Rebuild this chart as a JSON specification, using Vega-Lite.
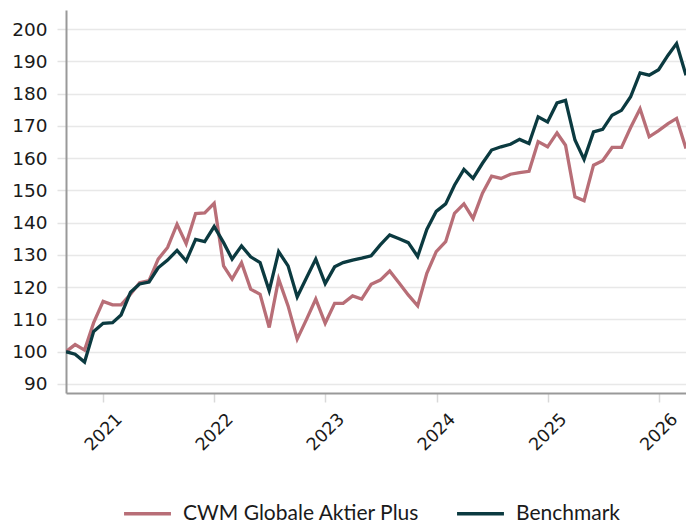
{
  "$schema": "https://vega.github.io/schema/vega-lite/v6.json",
  "width": 620,
  "height": 383,
  "autosize": {"type": "none"},
  "padding": {"left": 66, "top": 10, "right": 0, "bottom": 132},
  "background": "white",
  "config": {
    "view": {"stroke": null},
    "font": "DejaVu Sans"
  },
  "data": {
    "values": [
      {"date": "2020-08-31", "CWM Globale Aktier Plus": 100, "Benchmark": 100},
      {"date": "2020-09-30", "CWM Globale Aktier Plus": 102.2, "Benchmark": 99.2},
      {"date": "2020-10-31", "CWM Globale Aktier Plus": 100.5, "Benchmark": 96.8},
      {"date": "2020-11-30", "CWM Globale Aktier Plus": 109, "Benchmark": 106.3},
      {"date": "2020-12-31", "CWM Globale Aktier Plus": 115.6, "Benchmark": 108.8},
      {"date": "2021-01-31", "CWM Globale Aktier Plus": 114.5, "Benchmark": 109},
      {"date": "2021-02-28", "CWM Globale Aktier Plus": 114.5, "Benchmark": 111.4},
      {"date": "2021-03-31", "CWM Globale Aktier Plus": 117.8, "Benchmark": 118.4},
      {"date": "2021-04-30", "CWM Globale Aktier Plus": 121.4, "Benchmark": 121},
      {"date": "2021-05-31", "CWM Globale Aktier Plus": 122, "Benchmark": 121.6},
      {"date": "2021-06-30", "CWM Globale Aktier Plus": 128.7, "Benchmark": 126},
      {"date": "2021-07-31", "CWM Globale Aktier Plus": 132.3, "Benchmark": 128.4},
      {"date": "2021-08-31", "CWM Globale Aktier Plus": 139.5, "Benchmark": 131.4},
      {"date": "2021-09-30", "CWM Globale Aktier Plus": 133.5, "Benchmark": 128.1},
      {"date": "2021-10-31", "CWM Globale Aktier Plus": 142.8, "Benchmark": 134.8},
      {"date": "2021-11-30", "CWM Globale Aktier Plus": 143, "Benchmark": 134.1},
      {"date": "2021-12-31", "CWM Globale Aktier Plus": 146, "Benchmark": 138.8},
      {"date": "2022-01-31", "CWM Globale Aktier Plus": 126.6, "Benchmark": 133.8},
      {"date": "2022-02-28", "CWM Globale Aktier Plus": 122.5, "Benchmark": 128.7},
      {"date": "2022-03-31", "CWM Globale Aktier Plus": 127.6, "Benchmark": 132.8},
      {"date": "2022-04-30", "CWM Globale Aktier Plus": 119.4, "Benchmark": 129.4},
      {"date": "2022-05-31", "CWM Globale Aktier Plus": 117.8, "Benchmark": 127.6},
      {"date": "2022-06-30", "CWM Globale Aktier Plus": 107.5, "Benchmark": 118.9},
      {"date": "2022-07-31", "CWM Globale Aktier Plus": 122.5, "Benchmark": 131},
      {"date": "2022-08-31", "CWM Globale Aktier Plus": 114.2, "Benchmark": 126.6},
      {"date": "2022-09-30", "CWM Globale Aktier Plus": 103.9, "Benchmark": 117},
      {"date": "2022-10-31", "CWM Globale Aktier Plus": 110.1, "Benchmark": 123},
      {"date": "2022-11-30", "CWM Globale Aktier Plus": 116.3, "Benchmark": 128.7},
      {"date": "2022-12-31", "CWM Globale Aktier Plus": 108.8, "Benchmark": 121.1},
      {"date": "2023-01-31", "CWM Globale Aktier Plus": 115, "Benchmark": 126.3},
      {"date": "2023-02-28", "CWM Globale Aktier Plus": 115, "Benchmark": 127.6},
      {"date": "2023-03-31", "CWM Globale Aktier Plus": 117.3, "Benchmark": 128.4},
      {"date": "2023-04-30", "CWM Globale Aktier Plus": 116.3, "Benchmark": 129},
      {"date": "2023-05-31", "CWM Globale Aktier Plus": 120.9, "Benchmark": 129.7},
      {"date": "2023-06-30", "CWM Globale Aktier Plus": 122.2, "Benchmark": 133.1},
      {"date": "2023-07-31", "CWM Globale Aktier Plus": 125, "Benchmark": 136.2},
      {"date": "2023-08-31", "CWM Globale Aktier Plus": 121.3, "Benchmark": 135},
      {"date": "2023-09-30", "CWM Globale Aktier Plus": 117.6, "Benchmark": 133.8},
      {"date": "2023-10-31", "CWM Globale Aktier Plus": 114.2, "Benchmark": 129.5},
      {"date": "2023-11-30", "CWM Globale Aktier Plus": 124.3, "Benchmark": 137.9},
      {"date": "2023-12-31", "CWM Globale Aktier Plus": 131, "Benchmark": 143.5},
      {"date": "2024-01-31", "CWM Globale Aktier Plus": 134.1, "Benchmark": 145.8},
      {"date": "2024-02-29", "CWM Globale Aktier Plus": 142.9, "Benchmark": 151.6},
      {"date": "2024-03-31", "CWM Globale Aktier Plus": 145.8, "Benchmark": 156.5},
      {"date": "2024-04-30", "CWM Globale Aktier Plus": 141.3, "Benchmark": 153.7},
      {"date": "2024-05-31", "CWM Globale Aktier Plus": 149.1, "Benchmark": 158.4},
      {"date": "2024-06-30", "CWM Globale Aktier Plus": 154.4, "Benchmark": 162.5},
      {"date": "2024-07-31", "CWM Globale Aktier Plus": 153.7, "Benchmark": 163.5},
      {"date": "2024-08-31", "CWM Globale Aktier Plus": 155, "Benchmark": 164.3},
      {"date": "2024-09-30", "CWM Globale Aktier Plus": 155.5, "Benchmark": 165.8},
      {"date": "2024-10-31", "CWM Globale Aktier Plus": 155.9, "Benchmark": 164.5},
      {"date": "2024-11-30", "CWM Globale Aktier Plus": 165.1, "Benchmark": 172.8},
      {"date": "2024-12-31", "CWM Globale Aktier Plus": 163.5, "Benchmark": 171.2},
      {"date": "2025-01-31", "CWM Globale Aktier Plus": 167.8, "Benchmark": 177.1},
      {"date": "2025-02-28", "CWM Globale Aktier Plus": 164, "Benchmark": 177.9},
      {"date": "2025-03-31", "CWM Globale Aktier Plus": 148, "Benchmark": 165.6},
      {"date": "2025-04-30", "CWM Globale Aktier Plus": 146.8, "Benchmark": 159.6},
      {"date": "2025-05-31", "CWM Globale Aktier Plus": 157.8, "Benchmark": 168.1},
      {"date": "2025-06-30", "CWM Globale Aktier Plus": 159.2, "Benchmark": 168.9},
      {"date": "2025-07-31", "CWM Globale Aktier Plus": 163.3, "Benchmark": 173.3},
      {"date": "2025-08-31", "CWM Globale Aktier Plus": 163.3, "Benchmark": 174.8},
      {"date": "2025-09-30", "CWM Globale Aktier Plus": 169.5, "Benchmark": 179},
      {"date": "2025-10-31", "CWM Globale Aktier Plus": 175.3, "Benchmark": 186.4},
      {"date": "2025-11-30", "CWM Globale Aktier Plus": 166.6, "Benchmark": 185.7},
      {"date": "2025-12-31", "CWM Globale Aktier Plus": 168.5, "Benchmark": 187.4},
      {"date": "2026-01-31", "CWM Globale Aktier Plus": 170.7, "Benchmark": 191.9},
      {"date": "2026-02-28", "CWM Globale Aktier Plus": 172.3, "Benchmark": 195.5},
      {"date": "2026-03-31", "CWM Globale Aktier Plus": 163, "Benchmark": 185.7}
    ]
  },
  "transform": [
    {"fold": ["CWM Globale Aktier Plus", "Benchmark"], "as": ["series", "value"]}
  ],
  "mark": {"type": "line", "strokeWidth": 3.3, "strokeJoin": "miter", "clip": true},
  "encoding": {
    "x": {
      "field": "date",
      "type": "temporal",
      "scale": {"type": "utc", "domain": ["2020-08-31", "2026-03-31"], "nice": false},
      "axis": {
        "title": null,
        "format": "%Y",
        "tickCount": {"interval": "year", "step": 1},
        "labelAngle": -45,
        "labelAlign": "center",
        "labelBaseline": "middle",
        "labelFontSize": 17.5,
        "labelColor": "#1a1a1a",
        "labelFont": "DejaVu Sans",
        "labelPadding": 30,
        "labelDx": -9,
        "labelOverlap": false,
        "tickColor": "#d9d9d9",
        "tickSize": 9,
        "tickWidth": 1.5,
        "domainColor": "#999999",
        "domainWidth": 2,
        "grid": false
      }
    },
    "y": {
      "field": "value",
      "type": "quantitative",
      "scale": {"domain": [87.2, 205.9], "nice": false, "zero": false},
      "axis": {
        "title": null,
        "values": [90, 100, 110, 120, 130, 140, 150, 160, 170, 180, 190, 200],
        "labelFontSize": 18.5,
        "labelColor": "#1a1a1a",
        "labelFont": "DejaVu Sans",
        "labelPadding": 10,
        "tickColor": "#e3e3e3",
        "tickSize": 9,
        "tickWidth": 1.5,
        "gridColor": "#e8e8e8",
        "gridWidth": 1.5,
        "domainColor": "#999999",
        "domainWidth": 2
      }
    },
    "color": {
      "field": "series",
      "type": "nominal",
      "sort": ["CWM Globale Aktier Plus", "Benchmark"],
      "scale": {"domain": ["CWM Globale Aktier Plus", "Benchmark"], "range": ["#b86e77", "#0b3a40"]},
      "legend": {
        "title": null,
        "orient": "none",
        "legendX": 56,
        "legendY": 478,
        "direction": "horizontal",
        "symbolType": "stroke",
        "symbolSize": 2200,
        "symbolStrokeWidth": 3.5,
        "labelFontSize": 21,
        "labelFont": "Lato",
        "labelColor": "#1a1a1a",
        "labelLimit": 400,
        "labelOffset": 10,
        "columnPadding": 30
      }
    }
  }
}
